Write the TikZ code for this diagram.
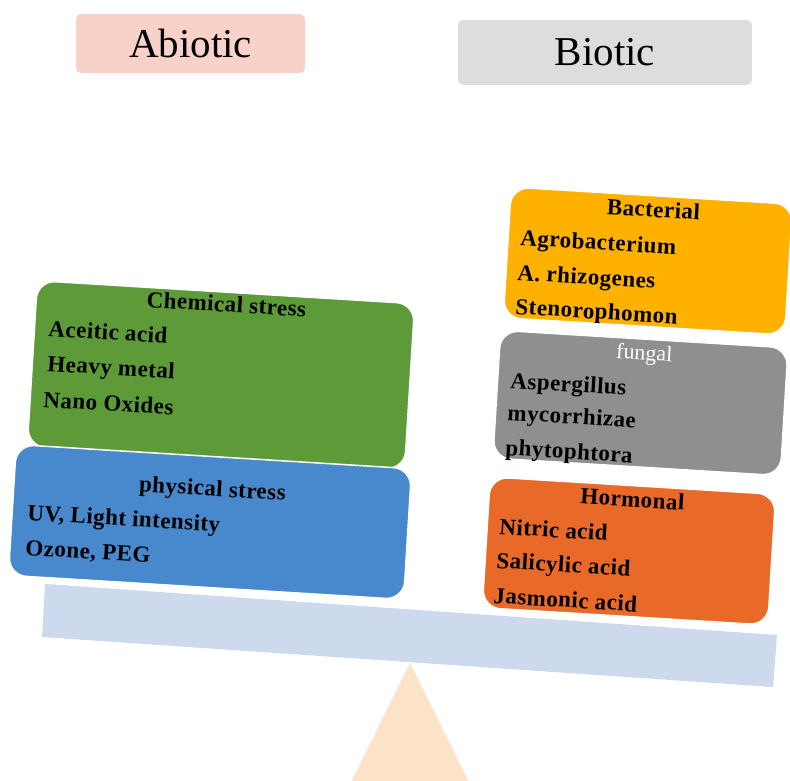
\documentclass[tikz,border=0pt]{standalone}
\usepackage{fontspec}
\setmainfont{Liberation Serif}
\newfontfamily\boxfont[LetterSpace=2]{Liberation Serif}
\definecolor{abiocol}{RGB}{248,210,200}
\definecolor{biocol}{RGB}{221,221,221}
\definecolor{chemcol}{RGB}{93,155,56}
\definecolor{physcol}{RGB}{72,136,204}
\definecolor{bactcol}{RGB}{255,177,0}
\definecolor{fungcol}{RGB}{143,143,143}
\definecolor{hormcol}{RGB}{233,106,40}
\definecolor{beamcol}{RGB}{205,218,237}
\definecolor{pivotcol}{RGB}{253,228,200}
\begin{document}
\begin{tikzpicture}[x=1pt,y=-1pt,
  panel/.style={fill=#1, draw=white, line width=1.5pt, rounded corners=18pt, rotate=-3.5, inner sep=0pt},
  titlebox/.style={fill=#1, rounded corners=5pt, inner sep=0pt, font=\fontsize{41}{41}\selectfont},
  item/.style={anchor=base west, rotate=-3.5, inner sep=0pt, font=\boxfont\bfseries\fontsize{23}{23}\selectfont},
  head/.style={anchor=base, rotate=-3.5, inner sep=0pt, font=\boxfont\bfseries\fontsize{23}{23}\selectfont}]
\useasboundingbox (0,0) rectangle (790,780);
\begin{scope}
\clip (0,0) rectangle (790,780);
% pivot
\fill[pivotcol] (410,663) -- (478,800) -- (342,800) -- cycle;
% beam
\fill[beamcol] (45,584) -- (777,635) -- (773,687) -- (42,637) -- cycle;
\end{scope}
% headers
\node[titlebox=abiocol, minimum width=229pt, minimum height=59pt] (abio) at (190.5,43.5) {Abiotic};
\node[titlebox=biocol, minimum width=294pt, minimum height=65pt] (bio) at (605,52.5) {Biotic};
% abiotic panels
\node[panel=chemcol, minimum width=378pt, minimum height=166pt] (chem) at (221,375) {};
\node[panel=physcol, minimum width=396pt, minimum height=131pt] (phys) at (210,522) {};
% biotic panels
\node[panel=bactcol, minimum width=282pt, minimum height=131pt] (bact) at (648,261) {};
\node[panel=fungcol, minimum width=288pt, minimum height=128pt] (fung) at (640.5,403) {};
\node[panel=hormcol, minimum width=286pt, minimum height=131pt] (horm) at (629,551) {};
% chemical stress
\node[head] (chemh) at (226,312) {Chemical stress};
\node[item] (c1) at (48,336) {Aceitic acid};
\node[item] (c2) at (47,371) {Heavy metal};
\node[item] (c3) at (43,407) {Nano Oxides};
% physical stress
\node[head] (physh) at (212,496) {physical stress};
\node[item] (p1) at (27,520) {UV, Light intensity};
\node[item] (p2) at (25,555) {Ozone, PEG};
% bacterial
\node[head] (bacth) at (653,217) {Bacterial};
\node[item] (b1) at (520,245) {Agrobacterium};
\node[item] (b2) at (517,280) {A. rhizogenes};
\node[item] (b3) at (515,314) {Stenorophomon};
% fungal
\node[head, font=\fontsize{22}{22}\selectfont, text=white] (fungh) at (644,360) {fungal};
\node[item] (f1) at (510,388) {Aspergillus};
\node[item] (f2) at (507,420) {mycorrhizae};
\node[item] (f3) at (505,455) {phytophtora};
% hormonal
\node[head] (hormh) at (632,507) {Hormonal};
\node[item] (h1) at (499,534) {Nitric acid};
\node[item] (h2) at (496,568) {Salicylic acid};
\node[item] (h3) at (493,603) {Jasmonic acid};
\end{tikzpicture}
\end{document}
